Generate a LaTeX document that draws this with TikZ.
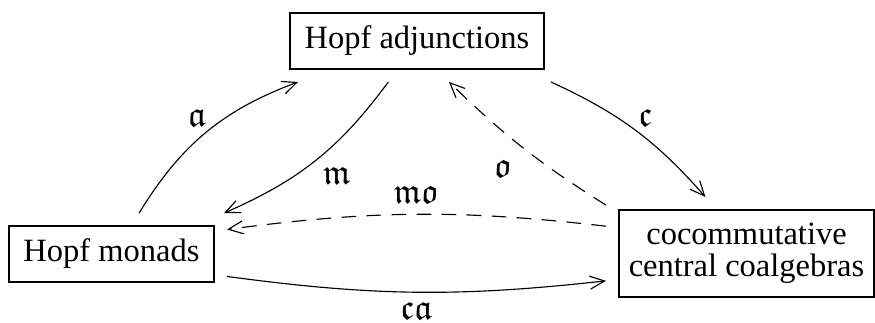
\documentclass[tikz,border=0pt]{standalone}
\usepackage{amssymb}
\usepackage{fontspec}
\setmainfont{Liberation Serif}
\usetikzlibrary{arrows.meta}

\tikzset{
  obj/.style={draw, line width=0.4pt, inner sep=2pt, outer sep=4pt, minimum height=17.2pt},
  arr/.style={-{Straight Barb[length=4.5pt,width=4pt]}, line width=0.35pt},
  dasharr/.style={arr, dash pattern=on 4.5pt off 3.2pt},
  lbl/.style={auto, inner sep=2.5pt, font=\fontsize{11}{13}\selectfont},
}

\begin{document}
\begin{tikzpicture}[x=0.3077pt, y=-0.3077pt]
  \useasboundingbox (0,0) rectangle (875,322);
  % the three kinds of objects
  \node[obj, minimum width=78.2pt] (adj) at (417,41) {Hopf adjunctions};
  \node[obj, minimum width=63.1pt] (mon) at (111.5,254) {Hopf monads};
  \node[obj, minimum width=78.5pt, minimum height=26.8pt, align=center] (coco) at (746.5,253.5)
    {cocommutative\\[-2.15pt]central coalgebras};
  % solid arrows
  \draw[arr] (mon.56) to[bend left=19] node[lbl, inner sep=0.8pt, pos=0.52] {$\mathfrak{a}$} (adj.199);
  \draw[arr] (adj.235) to[bend left=15] node[lbl, inner sep=2pt] {$\mathfrak{m}$} (mon.20);
  \draw[arr] (adj.-17.5) to[bend left=12] node[lbl, inner sep=0.8pt] {$\mathfrak{c}$} (coco.126);
  \draw[arr] (mon.-11) to[bend right=7] node[lbl, swap, inner sep=0.4pt, yshift=-2.6pt] {$\mathfrak{ca}$} (coco.191);
  % dashed arrows
  \draw[dasharr] (coco.161) to[bend left=6] node[lbl, inner sep=3.5pt, pos=0.5] {$\mathfrak{o}$} (adj.-52);
  \draw[dasharr] (coco.169) to[bend right=7] node[lbl, swap, inner sep=3.2pt] {$\mathfrak{mo}$} (mon.12);
\end{tikzpicture}
\end{document}
